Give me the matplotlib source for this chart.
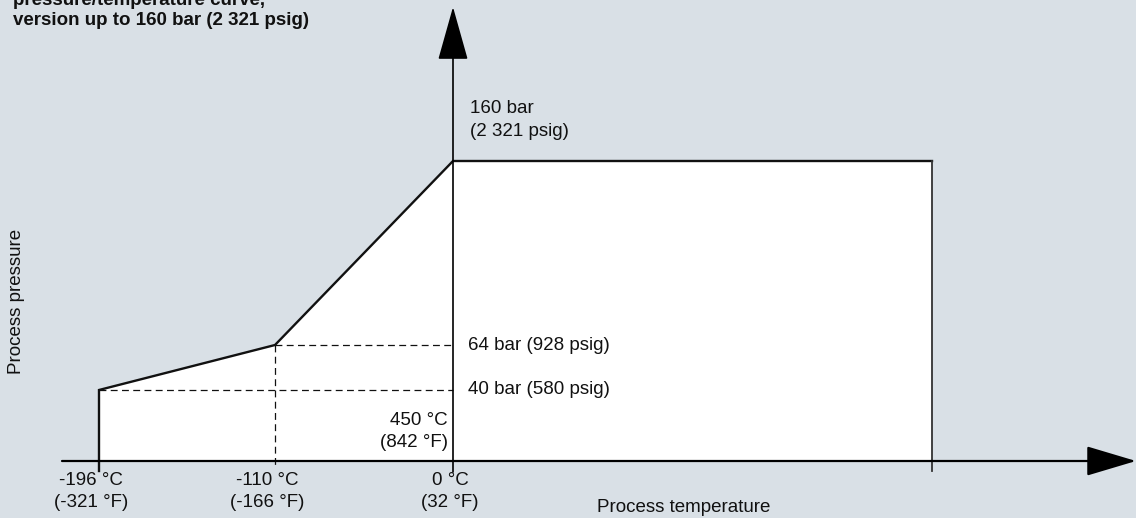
import numpy as np
import matplotlib
matplotlib.use("Agg")
import matplotlib.pyplot as plt
from matplotlib.patches import FancyArrowPatch

plt.rcParams["font.family"] = ["Liberation Sans", "DejaVu Sans"]

# --- chart values ---
temps_c = [-196, -110, 0, 450]
temps_f = [-321, -166, 32, 842]
pressure_bar = [40, 64, 160, 160]
pressure_psig = [580, 928, 2321, 2321]

title = "pressure/temperature curve,\nversion up to 160 bar (2 321 psig)"
x_label = "Process temperature"
y_label = "Process pressure"

# --- schematic (non-linear) scale: value -> pixel position in the 1136x518 figure ---
W, H = 1136, 518
x_breaks = [-196, -110, 0, 450]
x_px = [99, 275, 453, 932]
y_breaks = [0, 40, 64, 160]
y_px = [57, 128, 173, 357]

BG = "#d9e0e6"
INK = "#111111"
FS = 13.5


def piecewise(src, dst):
    src = np.asarray(src, float)
    dst = np.asarray(dst, float)
    s0 = (dst[1] - dst[0]) / (src[1] - src[0])
    s1 = (dst[-1] - dst[-2]) / (src[-1] - src[-2])

    def f(v):
        v = np.asarray(v, float)
        out = np.interp(v, src, dst)
        out = np.where(v < src[0], dst[0] + (v - src[0]) * s0, out)
        out = np.where(v > src[-1], dst[-1] + (v - src[-1]) * s1, out)
        return out
    return f


x_fwd, x_inv = piecewise(x_breaks, x_px), piecewise(x_px, x_breaks)
y_fwd, y_inv = piecewise(y_breaks, y_px), piecewise(y_px, y_breaks)

fig = plt.figure(figsize=(W / 100, H / 100), dpi=100, facecolor=BG)
ax = fig.add_axes([0, 0, 1, 1])
ax.set_xscale("function", functions=(x_fwd, x_inv))
ax.set_yscale("function", functions=(y_fwd, y_inv))
ax.set_xlim(float(x_inv(0)), float(x_inv(W)))
ax.set_ylim(float(y_inv(0)), float(y_inv(H)))
ax.axis("off")
ax.patch.set_alpha(0)

tick_end = float(y_inv(y_px[0] - 10))

# envelope
env_x = [temps_c[0]] + temps_c + [temps_c[-1]]
env_y = [0] + pressure_bar + [0]
ax.fill(env_x, env_y, color="white", zorder=1, lw=0)
ax.plot([temps_c[0]] + temps_c, [tick_end] + pressure_bar, color=INK, lw=1.7,
        solid_joinstyle="miter", zorder=3)
ax.plot([temps_c[-1], temps_c[-1]], [pressure_bar[-1], tick_end], color="#333333",
        lw=1.3, zorder=3)

# dashed guides
dash = dict(color=INK, lw=0.9, linestyle=(0, (5.5, 3.5)), zorder=2)
ax.plot([temps_c[0], 0], [pressure_bar[0]] * 2, **dash)
ax.plot([temps_c[1], 0], [pressure_bar[1]] * 2, **dash)
ax.plot([temps_c[1]] * 2, [pressure_bar[1], float(y_inv(y_px[0] - 7))], **dash)

# axes with arrow heads
ax.add_patch(FancyArrowPatch((62 / W, 0), (1.0, 0), transform=ax.get_yaxis_transform(),
                             arrowstyle="-|>,head_length=31.5,head_width=9.4",
                             mutation_scale=1, lw=1.6, color="black",
                             shrinkA=0, shrinkB=0, zorder=4))
ax.add_patch(FancyArrowPatch((0, 46 / H), (0, 511 / H), transform=ax.get_xaxis_transform(),
                             arrowstyle="-|>,head_length=34.5,head_width=9.7",
                             mutation_scale=1, lw=1.2, color="black",
                             shrinkA=0, shrinkB=0, zorder=4))

# temperature tick labels
nudge = [-5.5, -5.5, -2]
for c, f, dx in zip(temps_c[:3], temps_f[:3], nudge):
    ax.annotate(f"{c} °C\n({f} °F)", xy=(c, 0), xytext=(dx, -22),
                textcoords="offset points", ha="center", va="center",
                fontsize=FS, color=INK, linespacing=1.38)

ax.annotate(f"{temps_c[-1]} °C\n({temps_f[-1]} °F)", xy=(0, 0), xytext=(-3.6, 21.5),
            textcoords="offset points", ha="right", va="center", multialignment="right",
            fontsize=FS, color=INK, linespacing=1.38)

# pressure labels
for p, psig in zip(pressure_bar[:2], pressure_psig[:2]):
    ax.annotate(f"{p} bar ({psig} psig)", xy=(0, p), xytext=(10.5, 0),
                textcoords="offset points", ha="left", va="center",
                fontsize=FS, color=INK)
ax.annotate(f"{pressure_bar[2]} bar\n({pressure_psig[2]:,} psig)".replace(",", " "),
            xy=(0, pressure_bar[2]), xytext=(12, 29.5), textcoords="offset points",
            ha="left", va="center", fontsize=FS, color=INK, linespacing=1.42)

# axis titles and heading
fig.text(684 / W, 1 - 508 / H, x_label, ha="center", va="center", fontsize=FS, color=INK)
fig.text(16.5 / W, 1 - 301 / H, y_label, ha="center", va="center", rotation=90,
         fontsize=FS, color=INK)
fig.text(13 / W, 1 - 29 / H, title, ha="left", va="bottom", fontsize=FS,
         fontweight="bold", color=INK, linespacing=1.25)

fig.savefig("out.png", dpi=100, facecolor=BG)
